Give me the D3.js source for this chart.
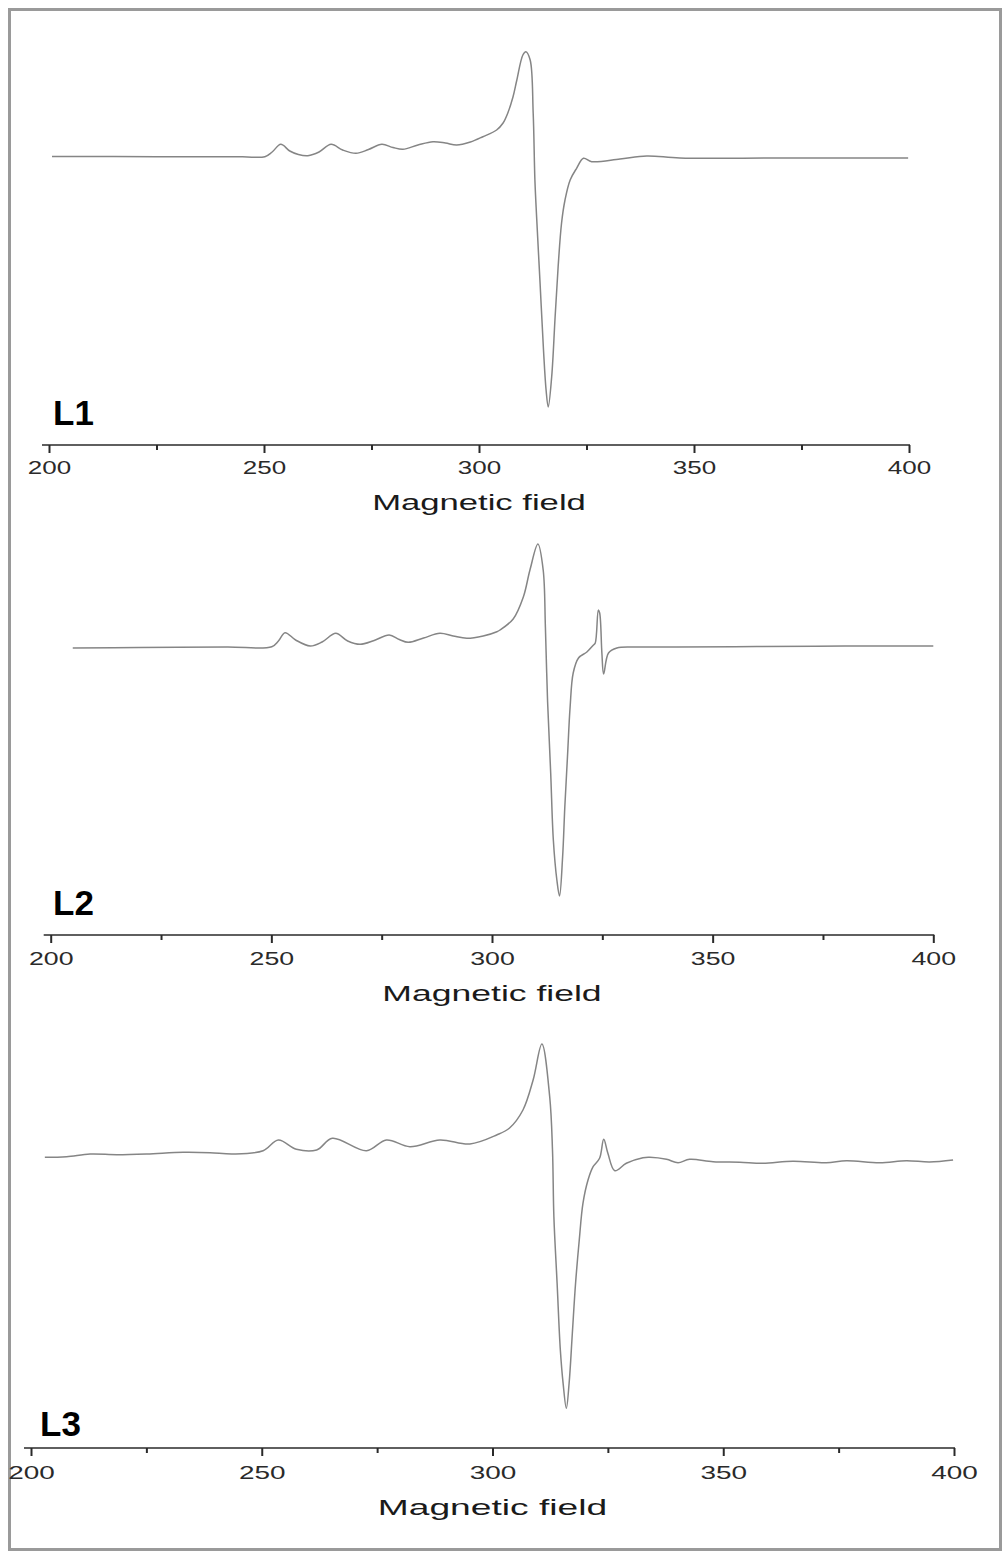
<!DOCTYPE html>
<html>
<head>
<meta charset="utf-8">
<script src="https://cdn.jsdelivr.net/npm/d3@7"></script>
<style>
  html, body { margin: 0; padding: 0; background: #fff; }
  svg { display: block; }
</style>
</head>
<body>
<svg id="chart"></svg>
<script>
// EPR spectra: field (as on the axis) and signal (a.u., baseline = 0)
let fieldL1 = [200.7, 215, 230, 245, 250.2, 251.9, 253.9, 256.0, 258.0, 260.2, 262.8, 265.6, 268.3, 271.4, 274.3, 277.4, 280.0, 282.3, 285.8, 289.3, 292.2, 294.8, 298.0, 300.9, 304.1, 305.6, 306.7, 307.9, 308.8, 310.2, 310.9, 311.9, 312.6, 313.0, 313.4, 314.2, 315.0, 315.6, 316.1, 316.9, 317.7, 318.4, 319.2, 320.0, 321.2, 322.7, 324.3, 326.2, 332.8, 339.0, 346.7, 370, 399.8]
let signalL1 = [0.5, 0.5, 0.3, 0.2, 0.3, 5, 12.7, 6, 2.5, 1.3, 5, 12.7, 7, 3.7, 7.5, 12.7, 9.5, 7.7, 12, 15.3, 14, 12, 15, 20.3, 27, 34, 44, 60, 77, 102, 105.3, 97, 44, -23, -60, -126, -193, -233, -250, -220, -160, -110, -66, -43, -23, -11.3, -1.3, -4.7, -2, 1, -1, -1, -1]

let fieldL2 = [205.0, 220, 240, 250.1, 251.6, 253.1, 255.5, 258.8, 261.5, 264.6, 267.3, 270.1, 273.3, 276.7, 279.0, 281.0, 284.5, 288.2, 291.2, 294.3, 298, 301.1, 301.8, 304.8, 307.1, 308.6, 310.4, 311.6, 312.1, 312.6, 313.3, 313.9, 314.7, 315.3, 316.0, 316.5, 317.1, 317.7, 318.4, 319.6, 321.5, 323.0, 323.4, 324.1, 324.4, 324.9, 325.3, 326.4, 328.3, 332.0, 341.9, 360, 380, 400]
let signalL2 = [-1, -0.5, 0, 0.3, 6, 14.3, 7, 1, 5, 13.7, 6, 2.7, 6.5, 12, 7.5, 4.7, 9, 13.7, 11, 8.7, 11, 15.3, 17, 28, 50, 77, 103, 77, 20, -55, -126, -193, -233, -249, -210, -160, -110, -60, -26, -11, -5, 2, 4, 37, 34, -6, -27, -6, -1, 0, 0, 0.5, 1, 1]

let fieldL3 = [203.0, 207.7, 212.8, 218.6, 225.1, 233.0, 238.8, 243.8, 250.3, 253.6, 257.5, 261.9, 265.3, 272.7, 277.0, 282.1, 288.6, 295.1, 300.9, 303.7, 306.6, 308.8, 310.7, 312.4, 313.0, 313.3, 314.0, 314.7, 315.3, 316.0, 316.6, 317.3, 318.0, 318.8, 319.6, 320.7, 321.8, 323.2, 324.1, 325.0, 326.5, 329.0, 332.6, 334.1, 337.7, 340.2, 342.7, 347.8, 353.6, 358.6, 365.1, 372.3, 376.7, 383.9, 389.7, 394.7, 399.8]
let signalL3 = [0.7, 1.3, 4, 3.3, 4, 5.7, 5.3, 4, 7.3, 18, 8.7, 8, 19.7, 7.3, 18, 11.3, 18, 14, 23, 30, 48, 78, 114, 61, 8, -58.7, -125.3, -192, -225.3, -250.3, -225.3, -175.3, -125.3, -82, -45.3, -22, -8.7, -0.3, 18.7, 4.7, -12.7, -5.3, 0.3, 0.7, -1.3, -4.7, -1.3, -3.7, -4.3, -5.3, -3.3, -4.7, -2.7, -4.7, -2.7, -4, -2]

let majorTicks = [200, 250, 300, 350, 400]
let minorTicks = [225, 275, 325, 375]
let panelNames = ["L1", "L2", "L3"]
let axisTitle = "Magnetic field"

let width = 1007
let height = 1552

// page layout of the three stacked panels
let panels = [
  { x0: 49,   x1: 909,   axisY: 445,  baseY: 157,  nameX: 53, nameY: 425,  tickY: 29, titleY: 65 },
  { x0: 50.7, x1: 933.3, axisY: 935,  baseY: 647,  nameX: 53, nameY: 915,  tickY: 30, titleY: 66 },
  { x0: 31,   x1: 954,   axisY: 1448, baseY: 1158, nameX: 40, nameY: 1436, tickY: 31, titleY: 67 }
]
let spectra = [
  d3.zip(fieldL1, signalL1),
  d3.zip(fieldL2, signalL2),
  d3.zip(fieldL3, signalL3)
]

let svg = d3.select("#chart")
  .attr("width", width)
  .attr("height", height)

svg.append("rect")
  .attr("x", 9.5)
  .attr("y", 9.5)
  .attr("width", 991)
  .attr("height", 1540)
  .attr("fill", "none")
  .attr("stroke", "#9a9a9a")
  .attr("stroke-width", 3)

panels.forEach((p, i) => {
  let xScale = d3.scaleLinear().domain([200, 400]).range([p.x0, p.x1])
  let yScale = d3.scaleLinear().domain([-260, 110]).range([p.baseY + 260, p.baseY - 110])
  let unit = (p.x1 - p.x0) / 200

  let line = d3.line()
    .x(d => xScale(d[0]))
    .y(d => yScale(d[1]))
    .curve(d3.curveCatmullRom.alpha(0.5))

  svg.append("path")
    .datum(spectra[i])
    .attr("d", line)
    .attr("fill", "none")
    .attr("stroke", "#858585")
    .attr("stroke-width", 1.5)

  let g = svg.append("g")
    .attr("transform", "translate(0," + p.axisY + ")")

  let xAxis = d3.axisBottom(xScale)
    .tickValues(majorTicks)
    .tickSize(8)
    .tickFormat(d3.format("d"))
  g.call(xAxis)

  let minorAxis = d3.axisBottom(xScale)
    .tickValues(minorTicks)
    .tickSize(5)
    .tickFormat("")
  g.append("g").call(minorAxis)

  g.selectAll(".domain").remove()
  g.selectAll(".tick line")
    .attr("stroke", "#2a2a2a")
    .attr("stroke-width", 2)

  g.append("line")
    .attr("x1", xScale(200) - 7)
    .attr("x2", xScale(400) + 1)
    .attr("y1", 0)
    .attr("y2", 0)
    .attr("stroke", "#2a2a2a")
    .attr("stroke-width", 1.6)

  g.selectAll(".tick text")
    .attr("y", p.tickY)
    .attr("dy", 0)
    .attr("fill", "#2a2a2a")
    .attr("font-family", "Liberation Sans, Arial, sans-serif")
    .attr("font-size", 18.5)
    .attr("textLength", 10.1 * unit)
    .attr("lengthAdjust", "spacingAndGlyphs")

  g.append("text")
    .attr("x", xScale(300))
    .attr("y", p.titleY)
    .attr("text-anchor", "middle")
    .attr("fill", "#1a1a1a")
    .attr("font-family", "Liberation Sans, Arial, sans-serif")
    .attr("font-size", 21.5)
    .attr("textLength", 49.7 * unit)
    .attr("lengthAdjust", "spacingAndGlyphs")
    .text(axisTitle)

  svg.append("text")
    .attr("x", p.nameX)
    .attr("y", p.nameY)
    .attr("fill", "#000")
    .attr("font-family", "Liberation Sans, Arial, sans-serif")
    .attr("font-weight", "bold")
    .attr("font-size", 35)
    .text(panelNames[i])
})
</script>
</body>
</html>
